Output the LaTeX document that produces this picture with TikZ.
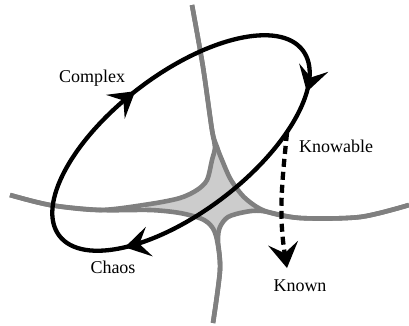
\documentclass[tikz,border=0pt]{standalone}
\usepackage{fontspec}
\setmainfont{Liberation Serif}
\usepackage{xcolor}
\usetikzlibrary{arrows.meta, positioning, decorations.markings}
\definecolor{batasgray}{RGB}{128,128,128}
\definecolor{zonafill}{RGB}{204,204,204}

\begin{document}
\begin{tikzpicture}[
    x=1pt, y=1pt,
    font=\fontsize{18}{20}\selectfont,
    batas/.style={draw=batasgray, line width=4.6pt},
    ujung/.tip={Stealth[length=25pt, width=30pt, inset=10pt]},
    siklus/.style={line width=4.3pt, postaction={decorate}, decoration={markings,
      mark=at position 0.257 with {\arrowreversed{ujung}},
      mark=at position 0.597 with {\arrowreversed{ujung}},
      mark=at position 0.940 with {\arrowreversed{ujung}}}},
    panah/.style={line width=4.3pt, dash pattern=on 8pt off 5pt, -ujung},
    teks/.style={inner sep=0pt, anchor=base}
  ]
    \useasboundingbox (0,0) rectangle (409,325);
    % zona tengah
    \fill[zonafill] plot[smooth] coordinates {(216,178) (222,165) (231,145) (245,127) (262,115)}
      -- plot[smooth] coordinates {(262,114) (245,113) (228,108) (220,98) (217,88)}
      -- plot[smooth] coordinates {(217,88) (212,98) (202,106) (180,112) (145,116)}
      -- plot[smooth] coordinates {(145,119) (180,127) (197,135) (207,145) (212,165) (216,178)}
      -- cycle;
    % garis batas
    \draw[batas] plot[smooth] coordinates {(192,320) (203,258) (212,195) (215,178) (212,165)
      (207,145) (197,135) (180,127) (150,121) (100,115) (50,120) (10,130)};
    \draw[batas] plot[smooth] coordinates {(192,320) (203,258) (212,195) (217,178) (222,165)
      (231,145) (245,127) (265,114) (300,107) (360,108) (409,120)};
    \draw[batas] plot[smooth] coordinates {(10,130) (50,120) (100,115) (150,115) (180,112)
      (202,106) (212,98) (217,85) (220,55) (213,2)};
    \draw[batas] plot[smooth] coordinates {(409,120) (360,108) (300,107) (262,114) (245,113)
      (228,108) (220,98) (218,85) (220,55) (213,2)};
    % siklus
    \draw[siklus, shift={(181,182)}, rotate=37.3] (0,0) ellipse[x radius=153, y radius=69];
    % label
    \node[teks] (cpx) at (92,243) {Complex};
    \node[teks] (knb) at (336,173) {Knowable};
    \node[teks] (chs) at (113,52) {Chaos};
    \node[teks] (knw) at (300,34) {Known};
    \coordinate (dashmulai) at (287,192);
    \draw[panah] (dashmulai) to[out=-96, in=99] ([shift={(-13,11)}]knw.north);
  \end{tikzpicture}
\end{document}
